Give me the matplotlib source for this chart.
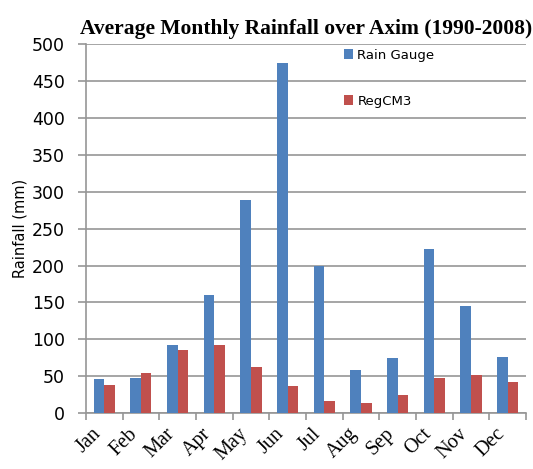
import matplotlib.pyplot as plt
import numpy as np

# Average monthly rainfall, Axim 1990-2008
months = ['Jan', 'Feb', 'Mar', 'Apr', 'May', 'Jun',
          'Jul', 'Aug', 'Sep', 'Oct', 'Nov', 'Dec']
rain_gauge = [46, 47, 93, 160, 289, 474, 200, 58, 75, 222, 145, 76]
regcm3 = [38, 54, 86, 92, 63, 37, 17, 14, 25, 47, 52, 42]

BLUE = '#4f81bd'
RED = '#c0504d'
GRID = '#969696'

fig = plt.figure(figsize=(5.33, 4.69), dpi=100)
ax = fig.add_axes([0.161, 0.119, 0.826, 0.787])

x = np.arange(len(months))
w = 0.29
ax.bar(x - w / 2, rain_gauge, w, color=BLUE, label='Rain Gauge', zorder=3)
ax.bar(x + w / 2, regcm3, w, color=RED, label='RegCM3', zorder=3)

ax.set_xlim(-0.5, len(months) - 0.5)
ax.set_ylim(0, 500)
ax.set_yticks(np.arange(0, 501, 50))
ax.yaxis.grid(True, color=GRID, linewidth=1.2, zorder=0)

# category boundaries as tick marks, labels centred under groups
ax.set_xticks(np.arange(-0.5, len(months)), minor=False)
ax.set_xticklabels([])
ax.set_xticks(x + 0.02, minor=True)
ax.set_xticklabels(months, minor=True, rotation=45, ha='right',
                   family='Liberation Serif', fontsize=14.5)
ax.tick_params(axis='x', which='major', length=5, color=GRID, width=1.2)
ax.tick_params(axis='x', which='minor', length=0, pad=8)
ax.tick_params(axis='y', length=6, color=GRID, width=1.2, labelsize=12.5,
               pad=9)

for side in ['top', 'right']:
    ax.spines[side].set_visible(False)
for side in ['left', 'bottom']:
    ax.spines[side].set_color(GRID)
    ax.spines[side].set_linewidth(1.2)

ax.set_ylabel('Rainfall (mm)', fontsize=10.5, labelpad=3)
ax.set_title('Average Monthly Rainfall over Axim (1990-2008)',
             family='Liberation Serif', fontweight='bold', fontsize=15.5, pad=7)

ax.legend(loc='upper left', bbox_to_anchor=(0.56, 1.02), frameon=False,
          fontsize=9.5, labelspacing=2.5, handlelength=0.7, handleheight=0.7,
          handletextpad=0.3)

fig.savefig('out.png', dpi=100)
